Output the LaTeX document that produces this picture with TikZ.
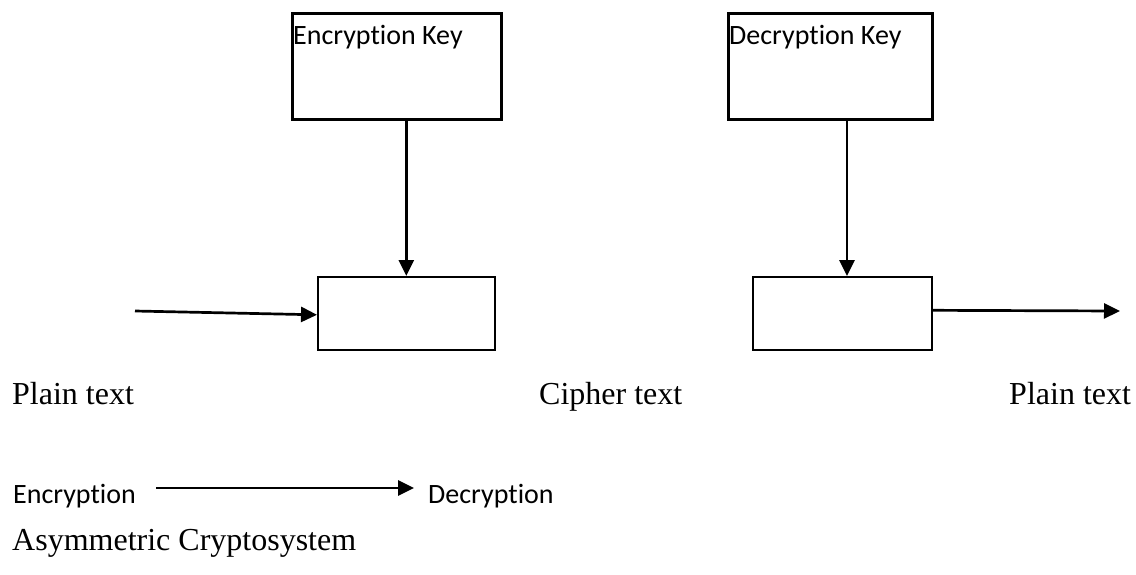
\documentclass[tikz,border=0pt]{standalone}
\usepackage{fontspec}
\setmainfont{Liberation Serif}
\newfontfamily\calfont[Ligatures=NoCommon]{Carlito}
\usetikzlibrary{arrows.meta}
\begin{document}
\begin{tikzpicture}[x=1pt,y=-1pt,
  keybox/.style={draw,line width=2.6pt,minimum width=209pt,minimum height=106pt,inner sep=0pt,anchor=north west},
  procbox/.style={draw,line width=1.6pt,minimum height=73pt,inner sep=0pt,anchor=north west},
  cal/.style={font=\calfont\fontsize{28}{33}\selectfont,inner sep=0pt,anchor=base west},
  ser/.style={font=\fontsize{32}{38}\selectfont,inner sep=0pt,anchor=base west},
  arr/.style={line width=2.7pt,-{Triangle[length=16pt,width=15pt]}}]
\useasboundingbox[fill=white] (0,0) rectangle (1136,574);
% key boxes
\node[keybox] (encKey) at (291,12) {};
\node[cal] (encKeyLbl) at (293,44) {Encryption Key};
\node[keybox,minimum width=204pt] (decKey) at (727,12) {};
\node[cal] (decKeyLbl) at (729,44) {Decryption Key};
% process boxes
\node[procbox,minimum width=177pt] (encBox) at (317,276) {};
\node[procbox,minimum width=179pt] (decBox) at (752,276) {};
% arrows
\draw[arr] (encKey.south -| encBox.north) -- (encBox.north);
\coordinate (decTop) at (847,276);
\draw[arr] (decKey.south -| decTop) -- (decTop);
\coordinate (inStart) at (135,311);
\draw[arr] (inStart) -- ([yshift=-1.5pt]encBox.west);
\coordinate (outEnd) at (1120,311);
\draw[arr] ([yshift=3pt]decBox.east) -- (outEnd);
% labels
\node[ser] (plain1) at (12,404) {Plain text};
\node[ser] (cipher) at (539,404) {Cipher text};
\node[ser] (plain2) at (1009,404) {Plain text};
\node[cal] (encLbl) at (13,503) {Encryption};
\node[cal] (decLbl) at (428,503) {Decryption};
\coordinate (legA) at (156,488);
\coordinate (legB) at (414,488);
\draw[arr] (legA) -- (legB);
\node[ser] (title) at (12,550) {Asymmetric Cryptosystem};
\end{tikzpicture}
\end{document}
